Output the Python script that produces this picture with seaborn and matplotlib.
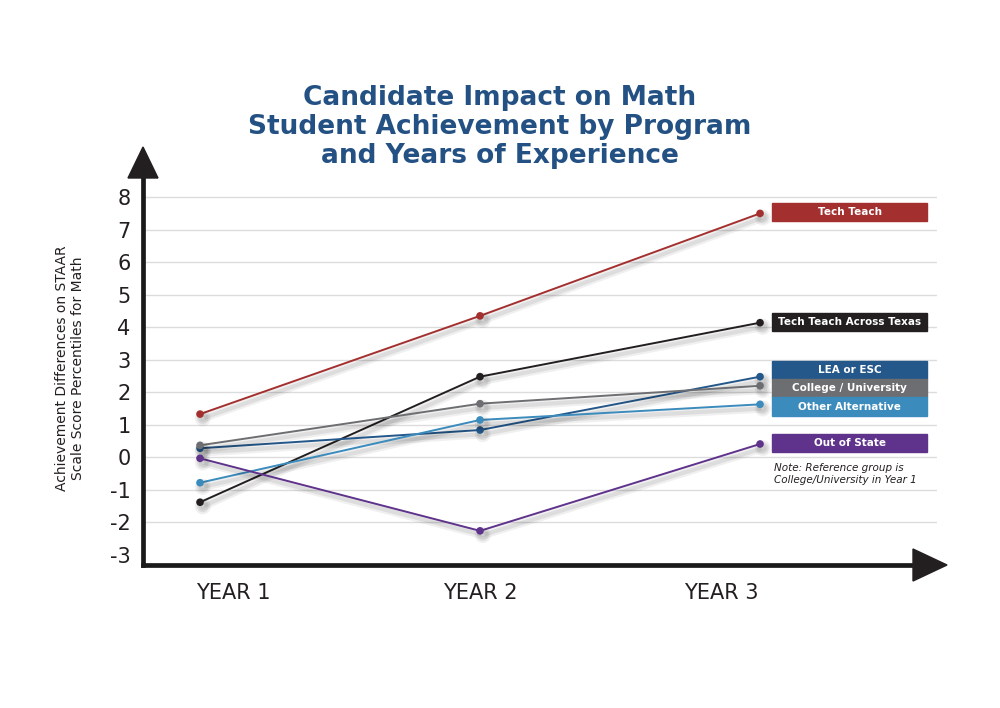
import pandas as pd
import matplotlib.pyplot as plt
import matplotlib.patheffects as pe
from matplotlib.patches import Polygon, Rectangle
import seaborn as sns

# values
years = ["YEAR 1", "YEAR 2", "YEAR 3"]
programs = ["Tech Teach", "Tech Teach Across Texas", "LEA or ESC",
            "College / University", "Other Alternative", "Out of State"]
tech_teach = [1.33, 4.35, 7.5]
tech_teach_texas = [-1.38, 2.48, 4.14]
lea_esc = [0.28, 0.84, 2.48]
college_univ = [0.37, 1.65, 2.2]
other_alt = [-0.78, 1.15, 1.63]
out_of_state = [-0.03, -2.26, 0.41]
colors = ["#a3302f", "#231f20", "#24578a", "#6d6e71", "#3b8bbd", "#5f338c"]

series = [tech_teach, tech_teach_texas, lea_esc, college_univ, other_alt, out_of_state]
rows = []
for name, vals in zip(programs, series):
    for yr, v in zip(years, vals):
        rows.append({"year": yr, "value": v, "program": name})
df = pd.DataFrame(rows)

sns.set_style("white")
plt.rcParams["font.family"] = ["DejaVu Sans"]

W, H = 1000, 708
def fx(px):
    return px / W
def fy(py):
    return 1 - py / H

fig = plt.figure(figsize=(10, 7.08), dpi=100)
ax = fig.add_axes([fx(143), fy(565), fx(937 - 143), (565 - 176) / H])

sns.lineplot(data=df, x="year", y="value", hue="program", hue_order=programs,
             palette=colors, marker="o", markersize=5.5, markeredgewidth=0,
             linewidth=1.4, sort=False, legend=False, ax=ax)
# soft drop shadow under each line
for ln in ax.lines:
    ln.set_path_effects([pe.SimpleLineShadow(offset=(2, -3), shadow_color="black",
                                             alpha=0.06, linewidth=6),
                         pe.SimpleLineShadow(offset=(2, -3), shadow_color="black",
                                             alpha=0.08, linewidth=3),
                         pe.Normal()])

ax.set_xlim(-0.2036, 2.632)
ax.set_ylim(-3.31, 8.65)
ax.set_yticks(range(-3, 9))
ax.set_yticklabels([str(v) for v in range(-3, 9)], fontsize=15)
ax.set_xticks([0.12, 1.0, 1.86])
ax.set_xticklabels(years, fontsize=15)
ax.tick_params(axis="y", length=0, pad=9, colors="#231f20")
ax.tick_params(axis="x", length=0, pad=13, colors="#231f20")
ax.set_xlabel("")
ax.set_ylabel("")

ax.yaxis.grid(True, color="#dcdcdc", linewidth=1)
ax.get_ygridlines()[0].set_visible(False)
ax.set_axisbelow(True)
for s in ["top", "right"]:
    ax.spines[s].set_visible(False)
for s in ["left", "bottom"]:
    ax.spines[s].set_color("#1a1a1a")
    ax.spines[s].set_linewidth(3.4)

# arrow heads on the axes
fig.patches.append(Polygon([[fx(143), fy(147)], [fx(128), fy(178)], [fx(158), fy(178)]],
                           closed=True, color="#231f20", transform=fig.transFigure))
fig.patches.append(Polygon([[fx(947), fy(565)], [fx(913), fy(549)], [fx(913), fy(581)]],
                           closed=True, color="#231f20", transform=fig.transFigure))

fig.text(0.5, fy(127), "Candidate Impact on Math\nStudent Achievement by Program\nand Years of Experience",
         ha="center", va="center", fontsize=19, fontweight="bold", color="#245183",
         linespacing=1.15)

fig.text(fx(70), fy(368), "Achievement Differences on STAAR\nScale Score Percentiles for Math",
         ha="center", va="center", rotation=90, fontsize=10, color="#231f20",
         linespacing=1.15)

# label boxes on the right
box_rows = [(203, 221), (313, 331), (361, 379), (379, 397), (397, 416), (434, 452)]
for name, col, (top, bot) in zip(programs, colors, box_rows):
    fig.patches.append(Rectangle((fx(772), fy(bot)), fx(927 - 772), (bot - top) / H,
                                 color=col, transform=fig.transFigure))
    fig.text(fx(849.5), fy((top + bot) / 2), name, ha="center", va="center",
             fontsize=7.5, fontweight="bold", color="white")

fig.text(fx(774), fy(474), "Note: Reference group is\nCollege/University in Year 1",
         ha="left", va="center", fontsize=7.5, style="italic", color="#231f20",
         linespacing=1.3)

fig.savefig("out.png", dpi=100)
